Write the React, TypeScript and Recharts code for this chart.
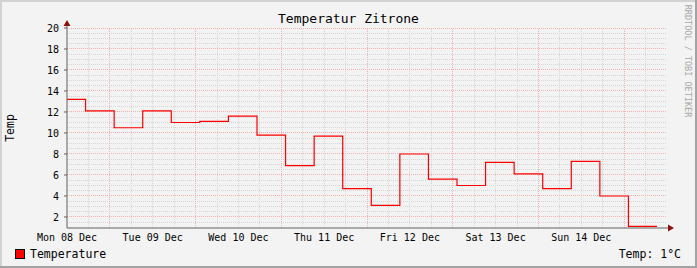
import { LineChart, Line, XAxis, YAxis, ReferenceLine, ReferenceDot } from "recharts";

// hours since Mon 08 Dec 00:00
const hours = [0, 5.2, 13.2, 21.2, 29.2, 37.2, 45.2, 53.2, 61.2, 69.2, 77.2, 85.2, 93.2, 101.2, 109.2, 117.2, 125.2, 133.2, 141.2, 149.2, 157.2, 165.2];
const temps = [13.2, 12.1, 10.5, 12.1, 11.0, 11.1, 11.6, 9.8, 6.9, 9.7, 4.7, 3.1, 8.0, 5.6, 5.0, 7.2, 6.1, 4.7, 7.3, 4.0, 1.1, 1.1];

const dayTicks = [0, 24, 48, 72, 96, 120, 144];
const dayLabels = ["Mon 08 Dec", "Tue 09 Dec", "Wed 10 Dec", "Thu 11 Dec", "Fri 12 Dec", "Sat 13 Dec", "Sun 14 Dec"];
const tempTicks = [2, 4, 6, 8, 10, 12, 14, 16, 18, 20];

const data = hours.map((t, i) => ({ t, temp: temps[i] }));

const minorH = Array.from({ length: 37 }, (_, i) => 1.5 + i * 0.5).filter((v) => v % 2 !== 0);
const majorV = [12, 36, 60, 84, 108, 132, 156];
const minorV = Array.from({ length: 27 }, (_, i) => 6 + i * 6).filter((v) => !majorV.includes(v));

const MONO = "'DejaVu Sans Mono', monospace";
const MINOR = "#d6d6d6";
const MAJOR = "#f2b0b0";
const AXIS = "#606060";
const ARROW = "#8c1010";
const CRISP = { shapeRendering: "crispEdges" } as any;

const App = () => (
  <div style={{ position: "absolute", left: 0, top: 0, width: 697, height: 268, background: "#f3f3f3", fontFamily: MONO, overflow: "hidden" }}>
    <LineChart width={697} height={268} data={data} margin={{ top: 28, right: 30, bottom: 10, left: 7 }}>
      {minorH.map((v) => (
        <ReferenceLine key={`mh${v}`} y={v} stroke={MINOR} strokeDasharray="1 1" {...CRISP} />
      ))}
      {minorV.map((v) => (
        <ReferenceLine key={`mv${v}`} x={v} stroke={MINOR} strokeDasharray="1 1" {...CRISP} />
      ))}
      {tempTicks.map((v) => (
        <ReferenceLine key={`Mh${v}`} y={v} stroke={MAJOR} strokeDasharray="1 1" {...CRISP} />
      ))}
      {majorV.map((v) => (
        <ReferenceLine key={`Mv${v}`} x={v} stroke={MAJOR} strokeDasharray="1 1" {...CRISP} />
      ))}
      <XAxis
        dataKey="t"
        type="number"
        domain={[0, 168]}
        ticks={dayTicks}
        tickFormatter={(v: number) => dayLabels[dayTicks.indexOf(v)]}
        height={30}
        stroke={AXIS}
        tickLine={false}
        tickSize={4}
        tickMargin={2}
        tick={{ fill: "#000", fontSize: 10, fontFamily: MONO }}
        interval={0}
      />
      <YAxis
        type="number"
        domain={[0.95, 20]}
        ticks={tempTicks}
        width={60}
        stroke={AXIS}
        tickSize={3}
        tickMargin={5}
        tick={{ fill: "#000", fontSize: 10, fontFamily: MONO }}
        allowDataOverflow
        interval={0}
      />
      <Line type="stepAfter" dataKey="temp" stroke="#ff0000" strokeWidth={1.2} dot={false} isAnimationActive={false} />
      <ReferenceDot
        x={0}
        y={20}
        shape={(p: any) => (
          <g>
            <line x1={p.cx} y1={p.cy} x2={p.cx} y2={p.cy - 3} stroke={AXIS} />
            <polygon points={`${p.cx - 3.5},${p.cy - 2} ${p.cx + 3.5},${p.cy - 2} ${p.cx},${p.cy - 8}`} fill={ARROW} />
          </g>
        )}
      />
      <ReferenceDot
        x={168}
        y={0.95}
        shape={(p: any) => (
          <g>
            <line x1={p.cx} y1={p.cy} x2={p.cx + 2} y2={p.cy} stroke={AXIS} />
            <polygon points={`${p.cx + 1},${p.cy - 3.5} ${p.cx + 1},${p.cy + 3.5} ${p.cx + 7},${p.cy}`} fill={ARROW} />
          </g>
        )}
      />
    </LineChart>

    <div style={{ position: "absolute", left: 0, right: 0, top: 11, textAlign: "center", fontSize: 13, color: "#000", lineHeight: "16px" }}>
      Temperatur Zitrone
    </div>
    <div style={{ position: "absolute", left: 10, top: 128, transform: "translate(-50%, -50%) rotate(-90deg)", fontSize: 11.5, color: "#000", whiteSpace: "nowrap" }}>
      Temp
    </div>
    <div style={{ position: "absolute", left: 688, top: 61, transform: "translate(-50%, -50%) rotate(90deg)", fontSize: 8.5, color: "#a8a8a8", whiteSpace: "nowrap" }}>
      RRDTOOL / TOBI OETIKER
    </div>
    <div style={{ position: "absolute", left: 15, top: 249, width: 8, height: 8, background: "#ff0000", border: "1px solid #000" }} />
    <div style={{ position: "absolute", left: 30, top: 246, fontSize: 11.5, color: "#000", lineHeight: "16px" }}>Temperature</div>
    <div style={{ position: "absolute", right: 16, top: 246, fontSize: 11.5, color: "#000", lineHeight: "16px" }}>Temp: 1°C</div>

    <div style={{ position: "absolute", left: 0, top: 0, width: 697, height: 2, background: "#d2d2d2" }} />
    <div style={{ position: "absolute", left: 0, top: 0, width: 2, height: 268, background: "#d2d2d2" }} />
    <div style={{ position: "absolute", left: 0, top: 266, width: 697, height: 2, background: "#a3a3a3" }} />
    <div style={{ position: "absolute", left: 695, top: 0, width: 2, height: 268, background: "#a3a3a3" }} />
  </div>
);

export default App;
